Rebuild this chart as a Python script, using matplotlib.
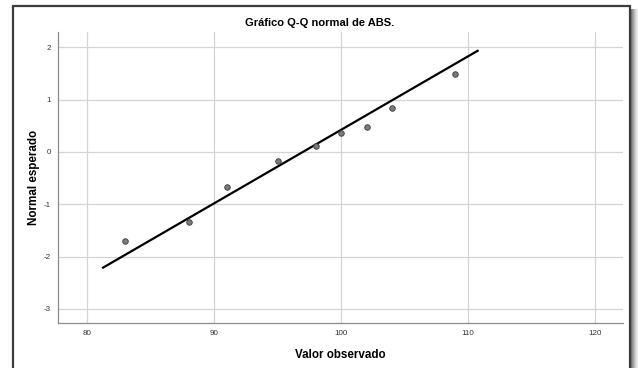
import matplotlib.pyplot as plt
from matplotlib.patches import Rectangle
import numpy as np

plt.rcParams['font.family'] = ['Liberation Sans', 'DejaVu Sans']
plt.rcParams['axes.unicode_minus'] = False

# observed values and their expected normal scores
observed = [83, 88, 91, 95, 98, 100, 102, 104, 109]
expected = [-1.70, -1.34, -0.67, -0.17, 0.11, 0.36, 0.48, 0.84, 1.49]

# reference normal line
line_mean = 97.0
line_sd = 7.12
line_x = [81.25, 110.75]

x_ticks = [80, 90, 100, 110, 120]
y_ticks = [-3, -2, -1, 0, 1, 2]

fig = plt.figure(figsize=(6.38, 3.68), dpi=100)
ax = fig.add_axes([58 / 638, 1 - 323 / 368, 565 / 638, 291 / 368])

ax.set_xlim(77.7, 122.2)
ax.set_ylim(-3.27, 2.29)
ax.set_xticks(x_ticks)
ax.set_yticks(y_ticks)
ax.grid(True, color='#d4d4d4', linewidth=0.9)
ax.set_axisbelow(True)
ax.tick_params(length=0, labelsize=5.8, labelcolor='#333333', pad=5)

for side in ['top', 'right']:
    ax.spines[side].set_visible(False)
for side in ['left', 'bottom']:
    ax.spines[side].set_color('#8c8c8c')
    ax.spines[side].set_linewidth(0.9)

lx = np.array(line_x)
ax.plot(lx, (lx - line_mean) / line_sd, color='black', linewidth=1.6, zorder=3)
ax.scatter(observed, expected, s=16, color='#7a7a7a', edgecolors='#3a3a3a',
           linewidths=0.6, zorder=4)

ax.set_xlabel('Valor observado', fontsize=8.4, fontweight='bold', labelpad=9)
ax.set_ylabel('Normal esperado', fontsize=8.4, fontweight='bold', labelpad=3)
fig.text(320 / 638, 1 - 23 / 368, 'Gráfico Q-Q normal de ABS.', fontsize=8,
         fontweight='bold', ha='center', va='center')

# drop shadow on the right of the frame
shades = ['#7a7a7a', '#909090', '#a6a6a6', '#bbbbbb', '#cfcfcf', '#e0e0e0', '#efefef']
for i, c in enumerate(shades):
    fig.patches.append(Rectangle(((631 + i) / 638, 0), 1 / 638, 1 - 9 / 368,
                                 transform=fig.transFigure, facecolor=c,
                                 edgecolor='none', zorder=0))

# dark frame around the chart
fig.patches.append(Rectangle((13 / 638, -0.05), 617 / 638, 1.05 - 5.5 / 368,
                             transform=fig.transFigure, facecolor='none',
                             edgecolor='#3c3c3c', linewidth=1.6, zorder=5))

fig.savefig('out.png', dpi=100)
